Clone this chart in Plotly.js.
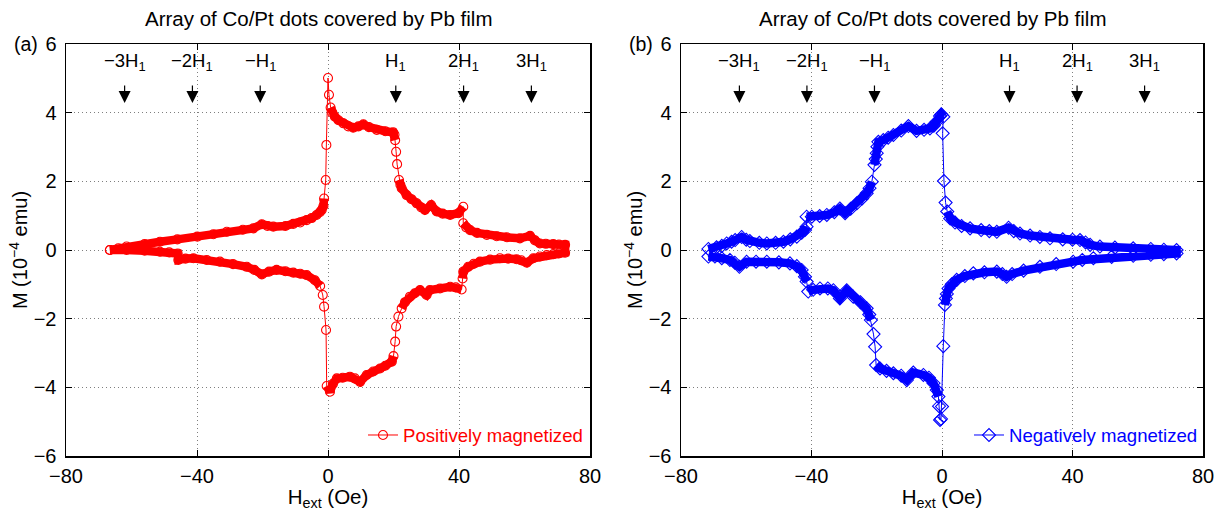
<!DOCTYPE html>
<html>
<head>
<meta charset="utf-8">
<script src="https://cdn.plot.ly/plotly-3.0.1.min.js"></script>
<style>html,body{margin:0;padding:0;background:#fff;}#chart{width:1221px;height:511px;}</style>
</head>
<body>
<div id="chart"></div>
<script>
// ---------- data ----------
const posX = [-66.6,-64,-61.5,-56,-51.3,-46,-39.9,-35,-30.9,-26,-22.8,-20.2,-18.5,-16.7,-13,-10.6,-8.5,-6.5,-5,-3.5,-2.5,-1.9,-1.4,-1.2,-0.7,-0.5,0,0.3,0.8,1.3,2.1,3.2,4.7,6.2,7.7,9.3,10.8,12.5,14.9,17.5,19.9,20.3,20.5,20.8,21.1,21.7,22.1,22.5,24.0,25.5,27.1,28.5,29.6,31.5,33.2,35,37.3,39.8,41.3,41.3,42.2,43.4,45.5,48.5,51.5,54.6,58.6,61.7,63.2,64.7,66.5,68.8,70.5,72.4,
  72.4,70.5,68.8,66.8,64.7,62.7,60.7,59,57.6,55,52.5,49.5,46.4,44.5,42.8,41.3,41.1,40.8,39,37.3,34.2,31.1,30.1,28.1,26.5,25.0,23.5,22.5,21.5,20.8,20.5,20.0,19.5,17.5,15.9,13.8,11.8,9.8,8.2,6.7,4.5,2.7,1.5,0.6,-0.4,-0.6,-1.2,-1.6,-2.4,-4,-6.5,-8.5,-10.6,-13,-15.7,-18,-20.2,-22.5,-24.8,-29,-33.0,-37,-41.1,-43.5,-45.7,-45.9,-48.5,-51.3,-56,-61.5,-66.6];
const posY = [0.00,0.05,0.10,0.17,0.24,0.31,0.39,0.46,0.53,0.59,0.63,0.75,0.70,0.68,0.70,0.76,0.80,0.87,0.93,1.02,1.10,1.17,1.28,1.50,2.04,3.06,5.01,4.52,4.15,4.00,3.88,3.78,3.69,3.60,3.56,3.60,3.66,3.58,3.50,3.46,3.43,3.36,3.20,2.86,2.50,2.04,1.90,1.80,1.60,1.48,1.36,1.24,1.17,1.31,1.12,1.06,1.02,1.07,1.26,0.78,0.66,0.58,0.50,0.44,0.40,0.37,0.34,0.41,0.28,0.19,0.18,0.17,0.16,0.15,
  -0.08,-0.10,-0.12,-0.15,-0.19,-0.24,-0.37,-0.30,-0.27,-0.25,-0.24,-0.28,-0.34,-0.40,-0.49,-0.63,-0.83,-1.15,-1.09,-1.07,-1.12,-1.17,-1.31,-1.17,-1.26,-1.36,-1.52,-1.70,-1.94,-2.23,-2.67,-3.09,-3.25,-3.37,-3.45,-3.54,-3.64,-3.84,-3.74,-3.69,-3.72,-3.74,-3.90,-4.13,-3.96,-2.33,-1.65,-1.31,-1.05,-0.88,-0.73,-0.69,-0.66,-0.62,-0.58,-0.63,-0.71,-0.58,-0.49,-0.41,-0.34,-0.29,-0.24,-0.25,-0.29,-0.10,-0.07,-0.05,-0.02,0.00,0.00];

const negX = [-71.6,-69.1,-67.5,-66.0,-64.5,-63.4,-61.4,-60,-58.9,-56,-53.7,-51,-48.6,-46.5,-44.5,-43,-42.0,-41.5,-41.5,-39.9,-37.5,-35.3,-33,-31.3,-29.7,-28,-26.1,-24.5,-23.1,-22.2,-21.5,-20.7,-20.3,-20.0,-19.8,-19.5,-18.0,-16.5,-14.9,-12.5,-10.3,-7.8,-5.5,-3.7,-2.5,-1.6,-0.6,-0.2,0.4,0.2,0.6,1.1,1.6,2.5,4,6,8.6,12,14.5,16.8,20.4,22,23.9,27,30,33.1,37,40,42.3,44,45.4,48.4,53,58.6,64,68,71.9,
  71.9,68,64,58.6,52,46.4,43,40.2,35,30.0,25,21.5,19.8,18.5,16.8,13,9.6,7,4.5,3,2.0,1.5,1.2,0.9,0.4,0.0,-0.3,-0.6,-0.9,-1.1,-1.6,-2.6,-4,-5.7,-8.8,-10.8,-12.5,-14.9,-17,-19.0,-20.2,-20.5,-21.0,-21.8,-22.3,-23.1,-25,-27.2,-29.2,-31.3,-33.3,-35,-37.4,-39.5,-41.0,-41.5,-42,-43.0,-44.5,-46.6,-50,-53.7,-57,-59.9,-62.1,-63.5,-65.0,-67.5,-69.6,-71.6];
const negY = [0.03,0.08,0.12,0.19,0.24,0.29,0.38,0.30,0.26,0.21,0.19,0.21,0.24,0.31,0.39,0.50,0.58,0.68,0.97,0.97,0.99,1.02,1.10,1.21,1.07,1.20,1.36,1.50,1.65,1.80,1.99,2.48,2.65,2.82,3.01,3.15,3.20,3.27,3.35,3.48,3.61,3.47,3.50,3.54,3.62,3.74,3.90,3.95,3.88,3.40,2.01,1.38,1.12,0.92,0.80,0.70,0.63,0.58,0.55,0.53,0.65,0.55,0.48,0.42,0.38,0.34,0.31,0.30,0.29,0.22,0.15,0.10,0.07,0.05,0.03,0.01,0.00,
  -0.10,-0.12,-0.14,-0.17,-0.20,-0.24,-0.29,-0.34,-0.41,-0.49,-0.60,-0.70,-0.78,-0.70,-0.63,-0.65,-0.68,-0.76,-0.87,-1.00,-1.12,-1.28,-1.41,-1.60,-2.80,-4.56,-4.92,-4.95,-4.55,-4.27,-4.08,-3.88,-3.72,-3.64,-3.57,-3.79,-3.66,-3.59,-3.52,-3.45,-3.35,-2.82,-2.45,-2.04,-1.88,-1.70,-1.52,-1.36,-1.17,-1.41,-1.17,-1.12,-1.12,-1.16,-1.21,-0.92,-0.78,-0.58,-0.47,-0.39,-0.36,-0.34,-0.34,-0.34,-0.49,-0.37,-0.29,-0.24,-0.19,-0.19];

const H1 = 20.7;
const arrowMultiples = [-3,-2,-1,1,2,3];
const arrowLabels = ['\u22123H<sub>1</sub>','\u22122H<sub>1</sub>','\u2212H<sub>1</sub>','H<sub>1</sub>','2H<sub>1</sub>','3H<sub>1</sub>'];
const xTicks = [-80,-40,0,40,80];
const yTicks = [-6,-4,-2,0,2,4,6];
const panelTitle = 'Array of Co/Pt dots covered by Pb film';
const panelTags = ['(a)','(b)'];
const legendNames = ['Positively magnetized','Negatively magnetized'];

// ---------- helpers ----------
// thick "dense band" drawn under the markers; broken where consecutive points form a steep jump
function band(xs, ys){
  const bx=[], by=[];
  for(let i=0;i<xs.length;i++){
    if(i>0){
      const dxp=Math.abs(xs[i]-xs[i-1])*3.27, dyp=Math.abs(ys[i]-ys[i-1])*34.3;
      if(dyp>8 && dyp>2.2*dxp){ bx.push(null); by.push(null); }
    }
    bx.push(xs[i]); by.push(ys[i]);
  }
  return [bx,by];
}
const RED='#ff0000', BLUE='#0000ff';
const [pbx,pby]=band(posX,posY);
const [nbx,nby]=band(negX,negY);

const traces=[
  {x:pbx,y:pby,xaxis:'x',yaxis:'y',mode:'lines',line:{color:RED,width:8.5},showlegend:false,hoverinfo:'skip',connectgaps:false},
  {x:posX,y:posY,xaxis:'x',yaxis:'y',mode:'lines+markers',name:legendNames[0],legend:'legend',
   line:{color:RED,width:1},marker:{symbol:'circle-open',size:9,color:RED,line:{width:1.1,color:RED}}},
  {x:nbx,y:nby,xaxis:'x2',yaxis:'y2',mode:'lines',line:{color:BLUE,width:8.5},showlegend:false,hoverinfo:'skip',connectgaps:false},
  {x:negX,y:negY,xaxis:'x2',yaxis:'y2',mode:'lines+markers',name:legendNames[1],legend:'legend2',
   line:{color:BLUE,width:1},marker:{symbol:'diamond-open',size:10,color:BLUE,line:{width:1.1,color:BLUE}}}
];

const FONT='Liberation Sans, Arial, Helvetica, sans-serif';
const FS=20;
function xa(dom){return {domain:dom,range:[-80,80],tickvals:xTicks,showgrid:true,griddash:'1px,3px',gridcolor:'#7f7f7f',gridwidth:1,
  zeroline:false,showline:true,linecolor:'#000',linewidth:1.5,mirror:'ticks',ticks:'inside',ticklen:6,tickcolor:'#000',
  tickfont:{family:FONT,size:FS,color:'#000'},ticklabelstandoff:1,
  title:{text:'H<sub>ext</sub> (Oe)',font:{family:FONT,size:20.5,color:'#000'},standoff:0}};}
function ya(anchor){return {domain:[0,1],range:[-6,6],tickvals:yTicks,showgrid:true,griddash:'1px,3px',gridcolor:'#7f7f7f',gridwidth:1,
  zeroline:false,showline:true,linecolor:'#000',linewidth:1.5,mirror:'ticks',ticks:'inside',ticklen:6,tickcolor:'#000',anchor:anchor,
  tickfont:{family:FONT,size:FS,color:'#000'},ticklabelstandoff:4,
  title:{text:'M (10<sup>\u22124</sup> emu)',font:{family:FONT,size:20,color:'#000'},standoff:0}};}

const W=1221;
const domL=[66/W,590/W], domR=[681/W,1203/W];
const annotations=[];
[['x','y',domL],['x2','y2',domR]].forEach((p,k)=>{
  arrowMultiples.forEach((m,i)=>{
    annotations.push({xref:p[0],yref:p[1],x:m*H1,y:4.28,text:arrowLabels[i],showarrow:true,ax:0,ay:-41,
      borderpad:11,arrowhead:2,arrowsize:2,arrowwidth:1.2,arrowcolor:'#000',
      font:{family:FONT,size:18.5,color:'#000'}});
  });
  const cx=(p[2][0]+p[2][1])/2;
  annotations.push({xref:'paper',yref:'paper',x:cx-9/W,y:1.0,yshift:26,text:panelTitle,showarrow:false,
    font:{family:FONT,size:20.5,color:'#000'},xanchor:'center',yanchor:'middle'});
  annotations.push({xref:'paper',yref:'paper',x:p[2][0]-40/W,y:1.0,yshift:0,text:panelTags[k],showarrow:false,
    font:{family:FONT,size:19.5,color:'#000'},xanchor:'center',yanchor:'middle'});
});

const layout={
  width:1221,height:511,paper_bgcolor:'#fff',plot_bgcolor:'#fff',
  margin:{l:0,r:0,t:44,b:55},
  font:{family:FONT,size:FS,color:'#000'},
  xaxis:xa(domL),yaxis:ya('x'),
  xaxis2:xa(domR),yaxis2:ya('x2'),
  legend:{x:588/W,xanchor:'right',y:0.05,yanchor:'middle',bgcolor:'rgba(0,0,0,0)',borderwidth:0,
    font:{family:FONT,size:18.6,color:RED},itemwidth:30},
  legend2:{x:1203/W,xanchor:'right',y:0.05,yanchor:'middle',bgcolor:'rgba(0,0,0,0)',borderwidth:0,
    font:{family:FONT,size:18.6,color:BLUE},itemwidth:30},
  annotations:annotations,
  showlegend:true
};
Plotly.newPlot('chart',traces,layout,{displayModeBar:false,staticPlot:true});
</script>
</body>
</html>
